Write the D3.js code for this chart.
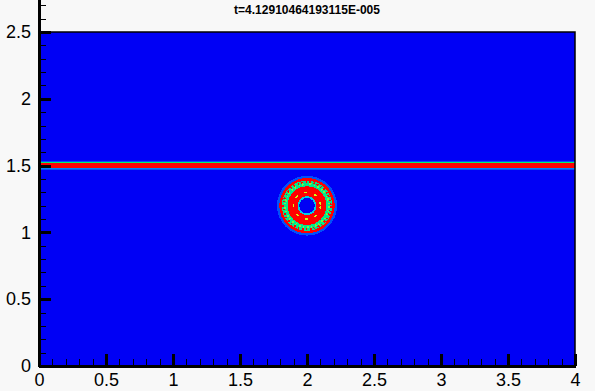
<!DOCTYPE html>
<html>
<head>
<meta charset="utf-8">
<script src="https://cdn.jsdelivr.net/npm/d3@7"></script>
<style>
  html, body { margin: 0; padding: 0; background: #f8f8f8; }
  svg { display: block; }
  text { font-family: "Liberation Sans", Arial, sans-serif; fill: #000; }
</style>
</head>
<body>
<svg width="595" height="391"></svg>
<script>
const title = "t=4.12910464193115E-005";

// axis ticks
const xMajor = [0, 0.5, 1, 1.5, 2, 2.5, 3, 3.5, 4];
const yMajor = [0, 0.5, 1, 1.5, 2, 2.5];

// horizontal interface band (strips: bottom, top, contour level 0..1)
const bandLow = [1.467, 1.475, 1.482, 1.521, 1.527];
const bandHigh = [1.475, 1.482, 1.521, 1.527, 1.535];
const bandLevel = [0.1, 0.16, 1, 0.5, 0.1];

// bubble centred at (2, 1.2): rings from outside in
const bubbleCenter = [2, 1.2];
const ringRadius = [0.224, 0.207, 0.188, 0.145, 0.071, 0.058];
const ringLevel = [0.1, 1, 0.45, 1, 0.3, 0];

// noisy texture rings inside the bubble
const speckRadius = [0.176, 0.162, 0.1];
const speckLevel = [1, 0.62, 0.7];

const svg = d3.select("svg");

const x = d3.scaleLinear().domain([0, 4]).range([39, 575]);
const y = d3.scaleLinear().domain([0, 2.5]).range([366, 32]);

const color = d3.scaleLinear()
  .domain([0, 0.25, 0.5, 0.75, 1])
  .range(["#0000f5", "#00c8ff", "#00f070", "#ffff00", "#ff0000"])
  .clamp(true);

const field = svg.append("g").attr("class", "field").attr("shape-rendering", "crispEdges");

field.append("rect")
  .attr("x", x(0))
  .attr("y", y(2.5))
  .attr("width", x(4) - x(0))
  .attr("height", y(0) - y(2.5))
  .attr("fill", color(0));

field.selectAll(".strip")
  .data(bandLevel)
  .join("rect")
  .attr("class", "strip")
  .attr("x", x(0))
  .attr("width", x(4) - x(0))
  .attr("y", (d, i) => y(bandHigh[i]))
  .attr("height", (d, i) => y(bandLow[i]) - y(bandHigh[i]))
  .attr("fill", d => color(d));

field.selectAll(".ring")
  .data(ringLevel)
  .join("ellipse")
  .attr("class", "ring")
  .attr("cx", x(bubbleCenter[0]))
  .attr("cy", y(bubbleCenter[1]))
  .attr("rx", (d, i) => x(ringRadius[i]) - x(0))
  .attr("ry", (d, i) => y(0) - y(ringRadius[i]))
  .attr("fill", d => color(d));

field.selectAll(".speck")
  .data(speckLevel)
  .join("ellipse")
  .attr("class", "speck")
  .attr("cx", x(bubbleCenter[0]))
  .attr("cy", y(bubbleCenter[1]))
  .attr("rx", (d, i) => x(speckRadius[i]) - x(0))
  .attr("ry", (d, i) => y(0) - y(speckRadius[i]))
  .attr("fill", "none")
  .attr("stroke", d => color(d))
  .attr("stroke-width", (d, i) => i === 2 ? 1.5 : 2)
  .attr("stroke-dasharray", (d, i) => i === 2 ? "3 7" : "2 3 1 2");

// frame on top and right
svg.append("path")
  .attr("d", `M${x(0)},${y(2.5)}H${x(4)}V${y(0)}`)
  .attr("fill", "none")
  .attr("stroke", "#000")
  .attr("stroke-width", 1.5);

// axes
const yAxisScale = y.copy().domain([0, 2.75]).range([y(0), y(2.75)]);
const xMinor = d3.range(1, 40).map(d => d / 10).filter(d => Math.round(d * 10) % 5 !== 0);
const yMinor = d3.range(1, 28).map(d => d / 10).filter(d => Math.round(d * 10) % 5 !== 0);

const fmt = d => String(d);

const gx = svg.append("g").attr("transform", `translate(0,${y(0)})`).attr("shape-rendering", "crispEdges");
gx.call(d3.axisBottom(x).tickValues(xMinor).tickSize(-7).tickSizeOuter(0).tickFormat(""));
gx.selectAll(".tick line").attr("stroke-width", 1);
gx.select(".domain").remove();
const gx2 = svg.append("g").attr("transform", `translate(0,${y(0)})`).attr("shape-rendering", "crispEdges");
gx2.call(d3.axisBottom(x).tickValues(xMajor).tickSize(-12).tickSizeOuter(0).tickPadding(7).tickFormat(fmt));
gx2.selectAll(".tick line").attr("stroke-width", 3);
gx2.select(".domain").attr("stroke-width", 3);
gx2.selectAll("text").attr("font-size", 18).attr("font-family", null).attr("dy", "0.71em");

const gy = svg.append("g").attr("transform", `translate(${x(0)},0)`).attr("shape-rendering", "crispEdges");
gy.call(d3.axisLeft(yAxisScale).tickValues(yMinor).tickSize(-7).tickSizeOuter(0).tickFormat(""));
gy.selectAll(".tick line").attr("stroke-width", 1);
gy.select(".domain").remove();
const gy2 = svg.append("g").attr("transform", `translate(${x(0)},0)`).attr("shape-rendering", "crispEdges");
gy2.call(d3.axisLeft(yAxisScale).tickValues(yMajor).tickSize(-12).tickSizeOuter(0).tickPadding(8).tickFormat(fmt));
gy2.selectAll(".tick line").attr("stroke-width", 3);
gy2.select(".domain").attr("stroke-width", 3);
gy2.selectAll("text").attr("font-size", 18).attr("font-family", null);

svg.append("text")
  .attr("x", (x(0) + x(4)) / 2)
  .attr("y", 14)
  .attr("text-anchor", "middle")
  .attr("font-size", 12)
  .attr("font-weight", "bold")
  .text(title);
</script>
</body>
</html>
